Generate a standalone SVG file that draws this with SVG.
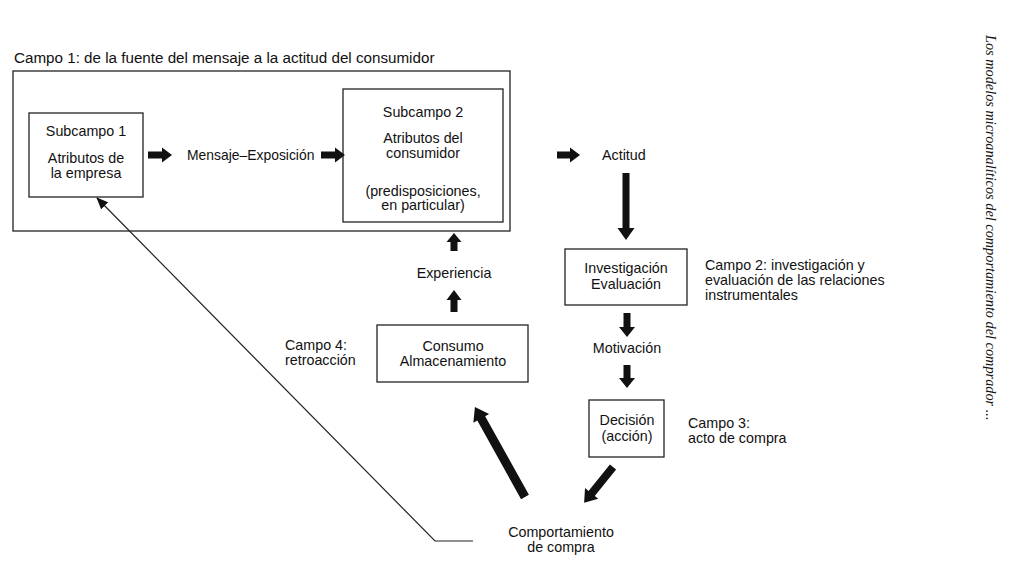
<svg xmlns="http://www.w3.org/2000/svg" width="1009" height="563" viewBox="0 0 1009 563">
<style>
text{font-family:"Liberation Sans",Arial,sans-serif;font-size:14.3px;fill:#111}
.c{text-anchor:middle}
.box{fill:none;stroke:#222;stroke-width:1.3}
.blk{fill:#111;stroke:none}
.thin{fill:none;stroke:#222;stroke-width:1.2}
.side{font-family:"Liberation Serif","Times New Roman",serif;font-style:italic;font-size:14.3px}
</style>
<defs>
<marker id="ah" viewBox="0 0 12 10" refX="11" refY="5" markerWidth="12" markerHeight="10" markerUnits="userSpaceOnUse" orient="auto">
<path d="M0,0 L12,5 L0,10 Z" fill="#111"/>
</marker>
</defs>
<rect width="1009" height="563" fill="#fff"/>

<g id="campo1">
<text x="14" y="63" style="font-size:15.2px">Campo 1: de la fuente del mensaje a la actitud del consumidor</text>
<rect class="box" x="13" y="71" width="497" height="160"/>
</g>
<g id="subcampo1">
<rect class="box" x="29" y="113" width="114" height="84"/>
<text class="c" x="86" y="136">Subcampo 1</text>
<text class="c" x="86" y="163">Atributos de</text>
<text class="c" x="86" y="178">la empresa</text>
</g>
<g id="mensaje"><text x="187" y="160" style="font-size:13.9px">Mensaje–Exposición</text></g>
<g id="subcampo2">
<rect class="box" x="343" y="89" width="160" height="133"/>
<text class="c" x="423" y="117">Subcampo 2</text>
<text class="c" x="423" y="143">Atributos del</text>
<text class="c" x="423" y="158">consumidor</text>
<text class="c" x="423" y="196">(predisposiciones,</text>
<text class="c" x="423" y="210">en particular)</text>
</g>
<g id="actitud"><text x="602" y="160">Actitud</text></g>
<g id="investigacion">
<rect class="box" x="565" y="249" width="122" height="56"/>
<text class="c" x="626" y="273">Investigación</text>
<text class="c" x="626" y="289">Evaluación</text>
</g>
<g id="campo2">
<text x="705" y="270">Campo 2: investigación y</text>
<text x="705" y="285">evaluación de las relaciones</text>
<text x="705" y="300">instrumentales</text>
</g>
<g id="motivacion"><text class="c" x="627" y="353">Motivación</text></g>
<g id="decision">
<rect class="box" x="589" y="400" width="75" height="57"/>
<text class="c" x="627" y="425">Decisión</text>
<text class="c" x="627" y="441">(acción)</text>
</g>
<g id="campo3">
<text x="688" y="428">Campo 3:</text>
<text x="688" y="443">acto de compra</text>
</g>
<g id="comportamiento">
<text class="c" x="561" y="537">Comportamiento</text>
<text class="c" x="561" y="552">de compra</text>
</g>
<g id="experiencia"><text class="c" x="454" y="278">Experiencia</text></g>
<g id="consumo">
<rect class="box" x="377" y="325" width="151" height="57"/>
<text class="c" x="453" y="351">Consumo</text>
<text class="c" x="453" y="366">Almacenamiento</text>
</g>
<g id="campo4">
<text x="285" y="350">Campo 4:</text>
<text x="285" y="365">retroacción</text>
</g>
<g id="sidenote">
<text class="side" transform="translate(986,35) rotate(90)">Los modelos microanalíticos del comportamiento del comprador ...</text>
</g>

<g id="connectors">
<path class="blk" transform="translate(148,155)" d="M0,-3.5 H14 V-7.5 L24,0 L14,7.5 V3.5 H0 Z"/>
<path class="blk" transform="translate(321,155)" d="M0,-3.5 H14 V-7.5 L24,0 L14,7.5 V3.5 H0 Z"/>
<path class="blk" transform="translate(557,155)" d="M0,-3.5 H13 V-7.5 L23,0 L13,7.5 V3.5 H0 Z"/>
<path class="blk" transform="translate(626,173) rotate(90)" d="M0,-3.5 H55 V-8.5 L67,0 L55,8.5 V3.5 H0 Z"/>
<path class="blk" transform="translate(627,313) rotate(90)" d="M0,-3.5 H14 V-8 L24,0 L14,8 V3.5 H0 Z"/>
<path class="blk" transform="translate(627,365) rotate(90)" d="M0,-3.5 H13 V-8 L23,0 L13,8 V3.5 H0 Z"/>
<path class="blk" transform="translate(613,467) rotate(128.9)" d="M0,-4 H34 V-8.5 L46,0 L34,8.5 V4 H0 Z"/>
<path class="blk" transform="translate(525,497) rotate(-119.1)" d="M0,-4.5 H90 V-9 L103,0 L90,9 V4.5 H0 Z"/>
<path class="blk" transform="translate(454,251) rotate(-90)" d="M0,-3.5 H9 V-7.5 L18,0 L9,7.5 V3.5 H0 Z"/>
<path class="blk" transform="translate(454,312) rotate(-90)" d="M0,-3.5 H12 V-7.5 L22,0 L12,7.5 V3.5 H0 Z"/>
<polyline class="thin" points="473,541 435,541 97,198" marker-end="url(#ah)"/>
</g>
</svg>
